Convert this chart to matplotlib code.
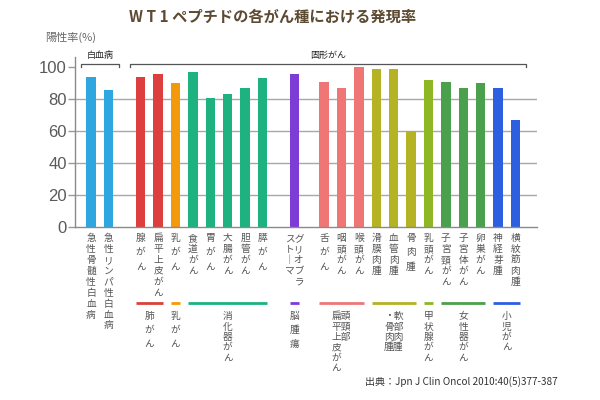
import matplotlib
matplotlib.use('Agg')
import matplotlib.pyplot as plt
import matplotlib.transforms as mtransforms
import numpy as np

plt.rcParams['font.family'] = ['Noto Sans CJK JP', 'DejaVu Sans']

# --- data ---
cancer_types = ['急性骨髄性白血病', '急性リンパ性白血病', '腺がん', '扁平上皮がん', '乳がん',
                '食道がん', '胃がん', '大腸がん', '胆管がん', '膵がん', 'グリオブラストーマ',
                '舌がん', '咽頭がん', '喉頭がん', '滑膜肉腫', '血管肉腫', '骨肉腫', '乳頭がん',
                '子宮頸がん', '子宮体がん', '卵巣がん', '神経芽腫', '横紋筋肉腫']
positive_rate = [94, 86, 94, 96, 90, 97, 81, 83, 87, 93, 96,
                 91, 87, 100, 99, 99, 60, 92, 91, 87, 90, 87, 67]
group_of_bar = [0, 0, 1, 1, 2, 3, 3, 3, 3, 3, 4,
                5, 5, 5, 6, 6, 6, 7, 8, 8, 8, 9, 9]
group_names = ['白血病', '肺がん', '乳がん', '消化器がん', '脳腫瘍', '頭頸部扁平上皮がん',
               '軟部肉腫・骨肉腫', '甲状腺がん', '女性器がん', '小児がん']
group_colors = ['#2ea6e0', '#dd3e3e', '#f29a0c', '#1db27f', '#7d3cd6', '#f07575',
                '#b5b224', '#8db824', '#4aa04c', '#2d60e0']
y_ticks = [0, 20, 40, 60, 80, 100]

# labels printed in two vertical columns (split index)
two_columns = {'グリオブラストーマ': 5, '頭頸部扁平上皮がん': 3, '軟部肉腫・骨肉腫': 4}


def vertical(text):
    """Stack characters top to bottom, columns read right to left."""
    split = two_columns.get(text)
    text = text.replace('ー', '｜')
    cols = [text[:split], text[split:]] if split else [text]
    rows = []
    for i in range(max(len(c) for c in cols)):
        rows.append(''.join(c[i] if i < len(c) else '\u3000' for c in reversed(cols)))
    return '\n'.join(rows)


# bar positions with the wider gaps between sections
pos = np.arange(len(cancer_types), dtype=float)
pos[2:] += 0.86
pos[10:] += 0.83
pos[11:] += 0.70
bar_w = 0.54

fig = plt.figure(figsize=(6, 4), dpi=100)
ax = fig.add_axes([0.125, 0.43175, 0.77, 0.4257])

colors = [group_colors[g] for g in group_of_bar]
ax.bar(pos, positive_rate, width=bar_w, color=colors, zorder=2)

ax.set_xlim(-0.92, 25.63)
ax.set_ylim(0, 106.4)
ax.hlines(y_ticks[1:-1], -0.92, 25.63, color='#a8a8a8', lw=1, zorder=1)

ax.set_yticks(y_ticks)
ax.set_yticklabels([str(v) for v in y_ticks], fontsize=12, color='#5a5a5a',
                   family=['Liberation Sans', 'DejaVu Sans'])
ax.tick_params(axis='y', length=5, width=1, color='#999999', pad=1)
ax.set_xticks([])
for s in ['top', 'right']:
    ax.spines[s].set_visible(False)
for s in ['left', 'bottom']:
    ax.spines[s].set_color('#8a8a8a')
    ax.spines[s].set_linewidth(1)

# brackets above the bars
brackets = [(0, 1, '白血病'), (2, 22, '固形がん')]
for i0, i1, name in brackets:
    x0, x1 = pos[i0] - 0.6, pos[i1] + 0.62
    ax.plot([x0, x0, x1, x1], [100.3, 102.1, 102.1, 100.3], color='#555555',
            lw=0.9, clip_on=False)
    ax.text((x0 + x1) / 2, 104.6, name, ha='center', va='bottom', fontsize=6.5,
            color='#222222')

tr = mtransforms.blended_transform_factory(ax.transData, fig.transFigure)

# vertical category labels
for x, name in zip(pos, cancer_types):
    ls = 1.55 if len(name) == 3 else 1.12
    ax.text(x, 0.418, vertical(name), transform=tr, ha='center', va='top',
            fontsize=7, color='#555555', linespacing=ls)

# section lines and section labels
for g, (name, c) in enumerate(zip(group_names, group_colors)):
    if g == 0:
        continue
    idx = [i for i, gg in enumerate(group_of_bar) if gg == g]
    x0, x1 = pos[idx[0]] - bar_w / 2, pos[idx[-1]] + bar_w / 2
    ax.plot([x0, x1], [0.2425, 0.2425], transform=tr, color=c, lw=2,
            clip_on=False, solid_capstyle='butt')
    ls = 1.5 if len(name) == 3 else 1.05
    ax.text((x0 + x1) / 2, 0.222, vertical(name), transform=tr, ha='center',
            va='top', fontsize=7, color='#555555', linespacing=ls)

fig.text(0.455, 0.958, 'W T 1 ペプチドの各がん種における発現率', ha='center',
         va='center', fontsize=11, fontweight='bold', color='#5c4a32')
fig.text(0.075, 0.907, '陽性率(%)', ha='left', va='center', fontsize=8, color='#666666')
fig.text(0.608, 0.045, '出典：Jpn J Clin Oncol 2010:40(5)377-387', ha='left',
         va='center', fontsize=7.2, color='#333333')

fig.savefig('out.png', dpi=100)
